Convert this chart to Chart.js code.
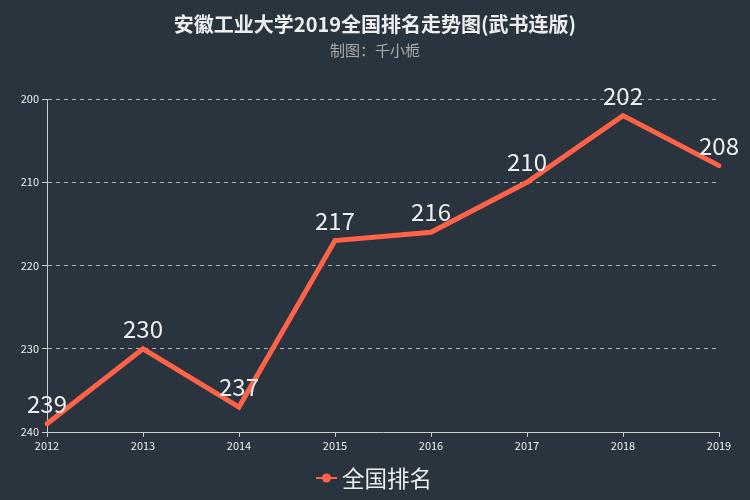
<!DOCTYPE html>
<html><head><meta charset="utf-8">
<script src="https://cdn.jsdelivr.net/npm/chart.js@4/dist/chart.umd.min.js"></script>
<style>html,body{margin:0;padding:0;background:#29343f;}#wrap{width:750px;height:500px;}</style>
</head><body><div id="wrap"><canvas id="c" width="750" height="500"></canvas></div>
<script>
const years = ['2012','2013','2014','2015','2016','2017','2018','2019'];
const ranks = [239, 230, 237, 217, 216, 210, 202, 208];
const seriesName = '全国排名';
const titleText = '安徽工业大学2019全国排名走势图(武书连版)';
const subtitleText = '制图：千小栀';
const yTicks = [200, 210, 220, 230, 240];

const FONT = '"Noto Sans CJK SC", "Noto Sans", sans-serif';
const LINE = '#ff6347';

const deco = {
  id: 'deco',
  afterDatasetsDraw(chart) {
    const ctx = chart.ctx;
    const meta = chart.getDatasetMeta(0);
    ctx.save();
    ctx.font = '24px ' + FONT;
    ctx.fillStyle = '#eeeeee';
    ctx.textAlign = 'center';
    ctx.textBaseline = 'bottom';
    meta.data.forEach((p, i) => {
      ctx.fillText(String(ranks[i]), p.x, p.y - 8);
    });
    ctx.restore();
  },
  afterDraw(chart) {
    const ctx = chart.ctx;
    ctx.save();
    ctx.textAlign = 'center';
    ctx.textBaseline = 'middle';
    ctx.fillStyle = '#eeeeee';
    ctx.font = 'bold 20px ' + FONT;
    ctx.fillText(titleText, 375, 24);
    ctx.fillStyle = '#aaaaaa';
    ctx.font = '15px ' + FONT;
    ctx.fillText(subtitleText, 375, 50);
    // legend
    const ly = 478;
    ctx.strokeStyle = LINE;
    ctx.lineWidth = 2;
    ctx.beginPath(); ctx.moveTo(316, ly); ctx.lineTo(337, ly); ctx.stroke();
    ctx.fillStyle = LINE;
    ctx.beginPath(); ctx.arc(326.5, ly, 4.5, 0, Math.PI * 2); ctx.fill();
    ctx.fillStyle = '#eeeeee';
    ctx.font = '22.5px ' + FONT;
    ctx.textAlign = 'left';
    ctx.fillText(seriesName, 342, ly);
    ctx.restore();
  }
};

new Chart(document.getElementById('c'), {
  type: 'line',
  data: {
    labels: years,
    datasets: [{
      label: seriesName,
      data: ranks,
      borderColor: LINE,
      backgroundColor: LINE,
      borderWidth: 5,
      pointRadius: 0,
      tension: 0,
      borderCapStyle: 'round',
      borderJoinStyle: 'miter'
    }]
  },
  options: {
    responsive: false,
    animation: false,
    layout: { padding: { top: 99, right: 31, left: 0, bottom: 0 } },
    plugins: { legend: { display: false }, title: { display: false }, tooltip: { enabled: false } },
    scales: {
      x: {
        type: 'category',
        offset: false,
        afterFit(s) { s.height = 68; },
        border: { color: '#cccccc', width: 1 },
        grid: { drawOnChartArea: false, drawTicks: true, tickLength: 5, color: '#cccccc' },
        ticks: { color: '#eeeeee', font: { family: FONT, size: 11 }, padding: 2, maxRotation: 0, autoSkip: false }
      },
      y: {
        reverse: true,
        min: 200, max: 240,
        afterFit(s) { s.width = 47; },
        afterBuildTicks(s) { s.ticks = yTicks.map(v => ({ value: v })); },
        border: { color: '#cccccc', width: 1, dash: [4, 4] },
        grid: { color: 'rgba(220,220,220,0.75)', tickLength: 5, tickBorderDash: [], tickColor: '#cccccc' },
        ticks: { color: '#eeeeee', font: { family: FONT, size: 11 }, padding: 3 }
      }
    }
  },
  plugins: [deco]
});
</script>
</body></html>
